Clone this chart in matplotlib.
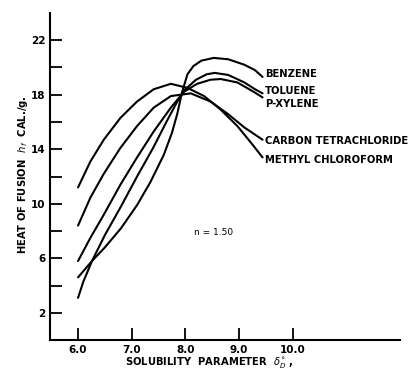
import numpy as np
import matplotlib
matplotlib.use("Agg")
from matplotlib import pyplot as plt

# Werte
benzene_x = [6.0, 6.26, 6.5, 6.8, 7.1, 7.35, 7.6, 7.75, 7.85, 7.94, 8.04, 8.15, 8.3, 8.53, 8.8, 9.1, 9.3, 9.44]
benzene_y = [4.6, 5.8, 6.8, 8.2, 9.9, 11.6, 13.6, 15.2, 16.6, 18.2, 19.5, 20.1, 20.5, 20.7, 20.6, 20.2, 19.8, 19.3]

toluene_x = [6.0, 6.1, 6.26, 6.5, 6.8, 7.1, 7.4, 7.66, 7.85, 8.0, 8.2, 8.4, 8.55, 8.8, 9.1, 9.3, 9.44]
toluene_y = [3.1, 4.3, 5.8, 7.7, 9.8, 12.0, 14.1, 16.1, 17.5, 18.4, 19.1, 19.5, 19.6, 19.45, 18.9, 18.4, 18.1]

xylene_x = [6.0, 6.23, 6.48, 6.79, 7.1, 7.41, 7.73, 7.97, 8.22, 8.47, 8.66, 8.97, 9.28, 9.44]
xylene_y = [5.8, 7.5, 9.2, 11.4, 13.4, 15.3, 17.05, 18.2, 18.8, 19.1, 19.15, 18.9, 18.2, 17.8]

ccl4_x = [6.0, 6.23, 6.48, 6.79, 7.1, 7.41, 7.73, 8.1, 8.47, 8.79, 9.1, 9.44]
ccl4_y = [8.4, 10.45, 12.2, 14.1, 15.7, 17.05, 17.9, 18.1, 17.5, 16.6, 15.6, 14.7]

methyl_x = [6.0, 6.23, 6.48, 6.79, 7.1, 7.41, 7.73, 8.04, 8.35, 8.66, 8.97, 9.22, 9.44]
methyl_y = [11.2, 13.1, 14.7, 16.3, 17.5, 18.4, 18.8, 18.5, 17.9, 16.9, 15.7, 14.5, 13.4]

names = ["BENZENE", "TOLUENE", "P-XYLENE", "CARBON TETRACHLORIDE", "METHYL CHLOROFORM"]
label_y = [19.5, 18.3, 17.3, 14.6, 13.2]

x_ticks = [6.0, 7.0, 8.0, 9.0, 10.0]
y_ticks = [2, 4, 6, 8, 10, 12, 14, 16, 18, 20, 22]
y_tick_labels = ["2", "", "6", "", "10", "", "14", "", "18", "", "22"]

plt.rcParams['font.family'] = ['DejaVu Sans']

fig = plt.figure(figsize=(4.11, 3.80), dpi=100)
ax = fig.add_axes([0.122, 0.105, 0.851, 0.861])

curves = [(benzene_x, benzene_y), (toluene_x, toluene_y), (xylene_x, xylene_y),
          (ccl4_x, ccl4_y), (methyl_x, methyl_y)]
for cx, cy in curves:
    ax.plot(cx, cy, color="black", lw=1.5, solid_capstyle="round", solid_joinstyle="round")

# Beschriftungen rechts
for name, ly in zip(names, label_y):
    ax.text(9.49, ly, name, fontsize=7.2, fontweight="bold", va="center", ha="left", clip_on=False)

ax.text(8.53, 7.86, "n = 1.50", fontsize=6.5, ha="center", va="center")

ax.set_xlim(5.48, 12.0)
ax.set_ylim(0, 24)
ax.set_xticks(x_ticks)
ax.set_xticklabels(["%.1f" % v for v in x_ticks], fontsize=7.5, fontweight="bold")
ax.set_yticks(y_ticks)
ax.set_yticklabels(y_tick_labels, fontsize=7.5, fontweight="bold")
ax.tick_params(direction="in", length=8.5, width=1.3, pad=3.5)

for s in ["top", "right"]:
    ax.spines[s].set_visible(False)
for s in ["left", "bottom"]:
    ax.spines[s].set_linewidth(1.5)

fig.text(0.51, 0.047, r"SOLUBILITY  PARAMETER  $\delta^{\circ}_{D}$ ,", fontsize=7.2,
         fontweight="bold", ha="center", va="center")
fig.text(0.056, 0.54, r"HEAT OF FUSION  $h_f$  CAL./g.", fontsize=7.2,
         fontweight="bold", ha="center", va="center", rotation=90)

fig.savefig("out.png", dpi=100)
